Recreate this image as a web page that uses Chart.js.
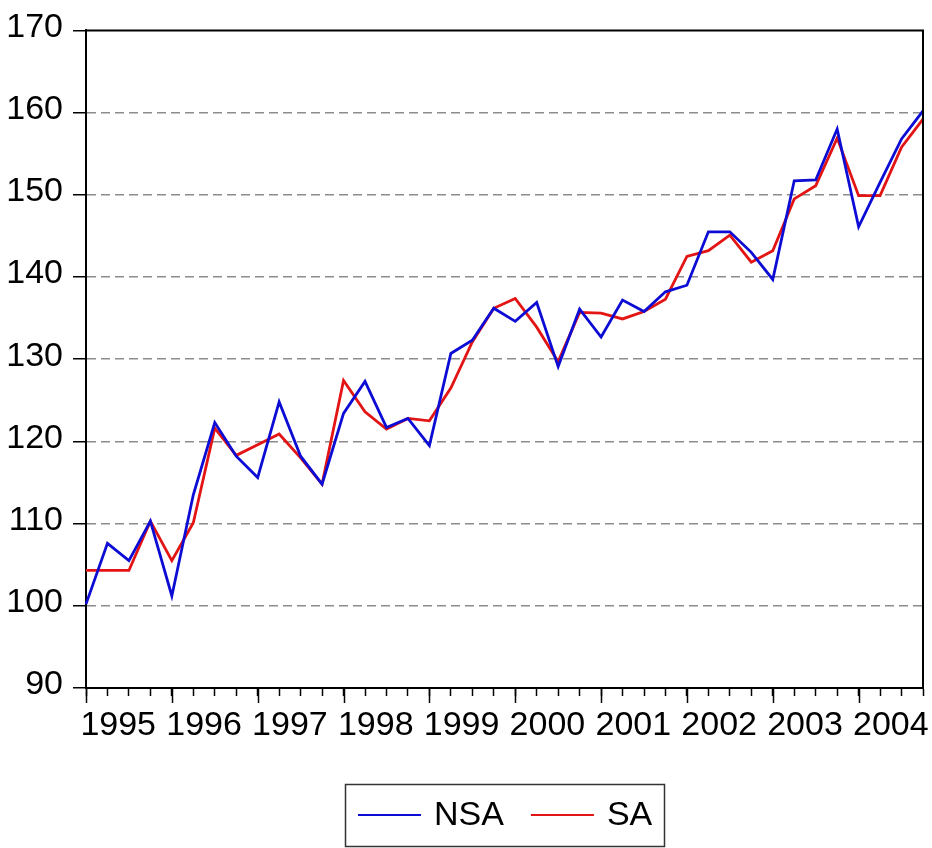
<!DOCTYPE html>
<html>
<head>
<meta charset="utf-8">
<script src="https://cdn.jsdelivr.net/npm/chart.js@4/dist/chart.umd.min.js"></script>
<style>
  html, body { margin: 0; padding: 0; background: #fff; }
</style>
</head>
<body>
<canvas id="chart" width="932" height="848"></canvas>
<script>
const years = [1995, 1996, 1997, 1998, 1999, 2000, 2001, 2002, 2003, 2004];
const quarters = years.flatMap(y => ['Q1', 'Q2', 'Q3', 'Q4'].map(q => y + q));

const nsa = [100.2, 107.6, 105.5, 110.3, 101.2, 113.5, 122.3, 118.2,
             115.6, 124.8, 118.2, 114.8, 123.4, 127.3, 121.7, 122.8,
             119.5, 130.7, 132.3, 136.2, 134.6, 136.9, 129.1, 136.1,
             132.7, 137.2, 135.8, 138.2, 139.0, 145.5, 145.5, 143.0,
             139.7, 151.7, 151.8, 158.0, 146.1, 151.5, 156.8, 160.2];
const sa  = [104.3, 104.3, 104.3, 110.3, 105.5, 110.1, 121.6, 118.3,
             119.6, 120.9, 118.0, 114.8, 127.4, 123.6, 121.5, 122.8,
             122.5, 126.5, 132.1, 136.2, 137.4, 133.9, 129.7, 135.7,
             135.6, 134.9, 135.8, 137.3, 142.5, 143.2, 145.1, 141.8,
             143.2, 149.5, 151.1, 156.9, 149.9, 149.9, 155.8, 159.2];
const yTicks = [90, 100, 110, 120, 130, 140, 150, 160, 170];

const font = { family: '"Liberation Sans", Arial, sans-serif', size: 34 };

// top/right frame, long year ticks and the boxed legend
const framePlugin = {
  id: 'frame',
  afterDraw(chart) {
    const { ctx, chartArea: a } = chart;
    const x = chart.scales.x;
    ctx.save();
    ctx.strokeStyle = '#000';
    ctx.lineWidth = 2;
    ctx.beginPath();
    ctx.moveTo(a.left, a.top);
    ctx.lineTo(a.right, a.top);
    ctx.lineTo(a.right, a.bottom);
    ctx.stroke();

    ctx.lineWidth = 1.5;
    quarters.forEach((q, i) => {
      if (i % 4) return;
      const px = Math.round(x.getPixelForValue(i)) + 0.5;
      ctx.beginPath();
      ctx.moveTo(px, a.bottom);
      ctx.lineTo(px, a.bottom + 15);
      ctx.stroke();
    });

    // legend
    ctx.font = font.size + 'px ' + font.family;
    const boxW = 319, boxH = 62;
    const bx = Math.round((a.left + a.right) / 2 - boxW / 2);
    const by = 784;
    ctx.strokeStyle = '#333';
    ctx.lineWidth = 1.5;
    ctx.strokeRect(bx + 0.5, by + 0.5, boxW, boxH);
    let cx = bx + 13;
    const cy = by + 31;
    chart.data.datasets.forEach(ds => {
      ctx.strokeStyle = ds.borderColor;
      ctx.lineWidth = 2;
      ctx.beginPath();
      ctx.moveTo(cx, cy);
      ctx.lineTo(cx + 63, cy);
      ctx.stroke();
      cx += 76;
      ctx.fillStyle = '#000';
      ctx.textBaseline = 'middle';
      ctx.fillText(ds.label, cx, cy + 1);
      cx += ctx.measureText(ds.label).width + 27;
    });
    ctx.restore();
  }
};

new Chart(document.getElementById('chart'), {
  type: 'line',
  data: {
    labels: quarters,
    datasets: [
      { label: 'NSA', data: nsa, borderColor: '#0c0cd4', borderWidth: 2.8, pointRadius: 0, fill: false },
      { label: 'SA', data: sa, borderColor: '#e31414', borderWidth: 2.8, pointRadius: 0, fill: false }
    ]
  },
  options: {
    responsive: false,
    animation: false,
    layout: { padding: { left: 0, top: 27, right: 7, bottom: 0 } },
    plugins: { legend: { display: false }, tooltip: { enabled: false } },
    elements: { line: { tension: 0 } },
    scales: {
      x: {
        type: 'category',
        offset: false,
        grid: { display: true, drawOnChartArea: false, drawTicks: true, tickLength: 8, tickColor: '#000', tickWidth: 1.5 },
        border: { display: true, color: '#000', width: 2 },
        ticks: {
          autoSkip: false, maxRotation: 0, minRotation: 0,
          padding: 9, labelOffset: 10.75, color: '#000', font: font,
          callback: (v, i) => i % 4 === 1 ? String(years[Math.floor(i / 4)]) : ''
        },
        afterFit: s => { s.height = 160; }
      },
      y: {
        min: 90, max: 170,
        afterBuildTicks: s => { s.ticks = yTicks.map(v => ({ value: v })); },
        ticks: { padding: 10, labelOffset: -3, color: '#000', font: font },
        grid: {
          color: c => (c.tick && (c.tick.value === 90 || c.tick.value === 170)) ? 'rgba(0,0,0,0)' : '#8c8c8c',
          lineWidth: 1.5, tickLength: 13, tickColor: '#000', tickWidth: 1.5
        },
        border: { display: true, color: '#000', width: 2, dash: [9, 5] },
        afterFit: s => { s.width = 86; }
      }
    }
  },
  plugins: [framePlugin]
});
</script>
</body>
</html>
